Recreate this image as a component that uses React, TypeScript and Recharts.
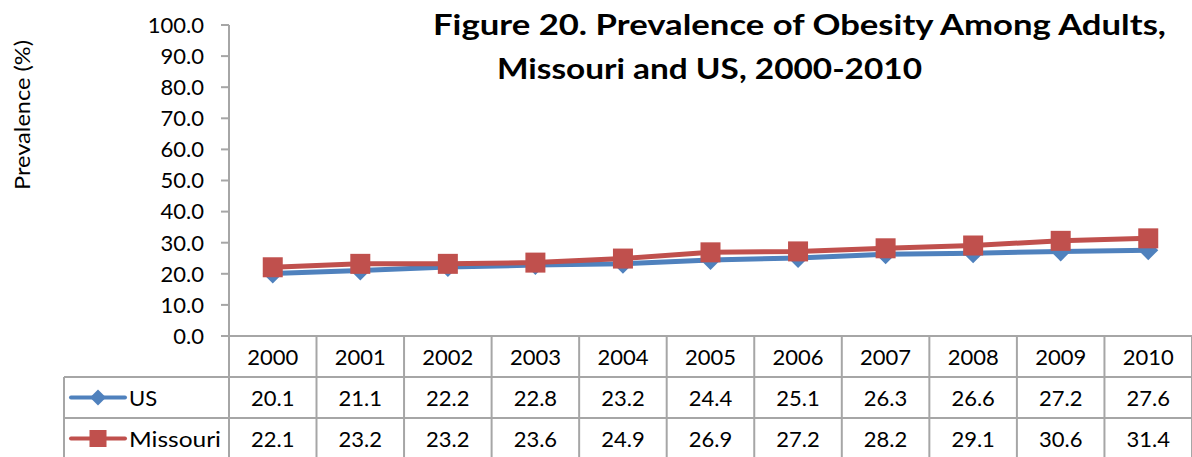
import React from "react";
import { LineChart, Line, XAxis, YAxis } from "recharts";

const years = ["2000", "2001", "2002", "2003", "2004", "2005", "2006", "2007", "2008", "2009", "2010"];
const usValues = [20.1, 21.1, 22.2, 22.8, 23.2, 24.4, 25.1, 26.3, 26.6, 27.2, 27.6];
const missouriValues = [22.1, 23.2, 23.2, 23.6, 24.9, 26.9, 27.2, 28.2, 29.1, 30.6, 31.4];
const yTicks = [0, 10, 20, 30, 40, 50, 60, 70, 80, 90, 100];

const data = years.map((year, i) => ({ year, us: usValues[i], missouri: missouriValues[i] }));

const FONT = "Lato, 'Open Sans', sans-serif";
const US_COLOR = "#4F81BD";
const MO_COLOR = "#C0504D";
const GRID = "#A6A6A6";
const HALF = 43.75;
const ROW = 41;
const FS = 22;

const Diamond = ({ cx, cy, size = 10 }: { cx: number; cy: number; size?: number }) => (
  <polygon
    points={`${cx},${cy - size} ${cx + size},${cy} ${cx},${cy + size} ${cx - size},${cy}`}
    fill={US_COLOR}
  />
);

const Square = ({ cx, cy, size = 10 }: { cx: number; cy: number; size?: number }) => (
  <rect x={cx - size} y={cy - size} width={size * 2} height={size * 2} fill={MO_COLOR} />
);

// each x tick draws one column of the data table under the plot
const TableColumn = (props: any) => {
  const { x, y, payload } = props;
  const i = payload.index;
  const top = y;
  const bottom = 457;
  return (
    <g>
      <line x1={x + HALF} y1={top} x2={x + HALF} y2={bottom} stroke={GRID} strokeWidth={2} />
      <line x1={x - HALF} y1={top + ROW} x2={x + HALF} y2={top + ROW} stroke={GRID} strokeWidth={2} />
      <line x1={x - HALF} y1={top + ROW * 2} x2={x + HALF} y2={top + ROW * 2} stroke={GRID} strokeWidth={2} />
      <text x={x} y={top + ROW / 2 + 8} textAnchor="middle" fontSize={FS} fontFamily={FONT} fill="#000">
        {payload.value}
      </text>
      <text x={x} y={top + ROW * 1.5 + 8} textAnchor="middle" fontSize={FS} fontFamily={FONT} fill="#000">
        {usValues[i].toFixed(1)}
      </text>
      <text x={x} y={top + ROW * 2.5 + 8} textAnchor="middle" fontSize={FS} fontFamily={FONT} fill="#000">
        {missouriValues[i].toFixed(1)}
      </text>
      {i === 0 && (
        <g>
          <line x1={x - HALF} y1={top - 2} x2={x - HALF} y2={bottom} stroke={GRID} strokeWidth={2} />
          <line x1={64} y1={top + ROW} x2={x - HALF} y2={top + ROW} stroke={GRID} strokeWidth={2} />
          <line x1={64} y1={top + ROW * 2} x2={x - HALF} y2={top + ROW * 2} stroke={GRID} strokeWidth={2} />
          <line x1={64} y1={top + ROW} x2={64} y2={bottom} stroke={GRID} strokeWidth={2} />
          <line x1={71} y1={top + ROW * 1.5} x2={125} y2={top + ROW * 1.5} stroke={US_COLOR} strokeWidth={4} strokeLinecap="round" />
          <Diamond cx={98} cy={top + ROW * 1.5} size={8} />
          <text x={129} y={top + ROW * 1.5 + 8} fontSize={FS} fontFamily={FONT} fill="#000">US</text>
          <line x1={71} y1={top + ROW * 2.5} x2={125} y2={top + ROW * 2.5} stroke={MO_COLOR} strokeWidth={4} strokeLinecap="round" />
          <Square cx={98} cy={top + ROW * 2.5} size={8.5} />
          <text x={129} y={top + ROW * 2.5 + 8} fontSize={FS} fontFamily={FONT} fill="#000" textLength={92} lengthAdjust="spacingAndGlyphs">
            Missouri
          </text>
        </g>
      )}
    </g>
  );
};

const YLabel = () => (
  <text
    x={0}
    y={0}
    transform="translate(30, 115) rotate(-90)"
    textAnchor="middle"
    fontSize={21}
    fontFamily={FONT}
    fill="#000"
    textLength={150}
    lengthAdjust="spacingAndGlyphs"
  >
    Prevalence (%)
  </text>
);

export default function App() {
  return (
    <div style={{ position: "absolute", left: 0, top: 0, width: 1192, height: 457, background: "#fff" }}>
      <LineChart width={1192} height={457} data={data} margin={{ top: 25, right: 0, left: 169, bottom: 80 }}>
        <XAxis
          dataKey="year"
          height={41}
          padding={{ left: HALF, right: HALF }}
          axisLine={{ stroke: GRID, strokeWidth: 2 }}
          tickLine={false}
          tickSize={0}
          tickMargin={0}
          tick={<TableColumn />}
          interval={0}
        />
        <YAxis
          width={60}
          domain={[0, 100]}
          ticks={yTicks}
          interval={0}
          tickFormatter={(v: number) => v.toFixed(1)}
          tick={{ fill: "#000", fontSize: FS, fontFamily: FONT }}
          axisLine={{ stroke: GRID, strokeWidth: 2 }}
          tickLine={{ stroke: GRID, strokeWidth: 2 }}
          tickSize={8}
          tickMargin={17}
          label={<YLabel />}
        />
        <Line
          dataKey="us"
          stroke={US_COLOR}
          strokeWidth={5}
          dot={(p: any) => <Diamond key={`us-${p.index}`} cx={p.cx} cy={p.cy} />}
          activeDot={false}
          isAnimationActive={false}
        />
        <Line
          dataKey="missouri"
          stroke={MO_COLOR}
          strokeWidth={5}
          dot={(p: any) => <Square key={`mo-${p.index}`} cx={p.cx} cy={p.cy} />}
          activeDot={false}
          isAnimationActive={false}
        />
        <text
          x={433}
          y={35}
          fontSize={29}
          fontWeight="bold"
          fontFamily={FONT}
          fill="#000"
          textLength={733}
          lengthAdjust="spacingAndGlyphs"
        >
          Figure 20. Prevalence of Obesity Among Adults,
        </text>
        <text
          x={497}
          y={79}
          fontSize={29}
          fontWeight="bold"
          fontFamily={FONT}
          fill="#000"
          textLength={425}
          lengthAdjust="spacingAndGlyphs"
        >
          Missouri and US, 2000-2010
        </text>
      </LineChart>
    </div>
  );
}
